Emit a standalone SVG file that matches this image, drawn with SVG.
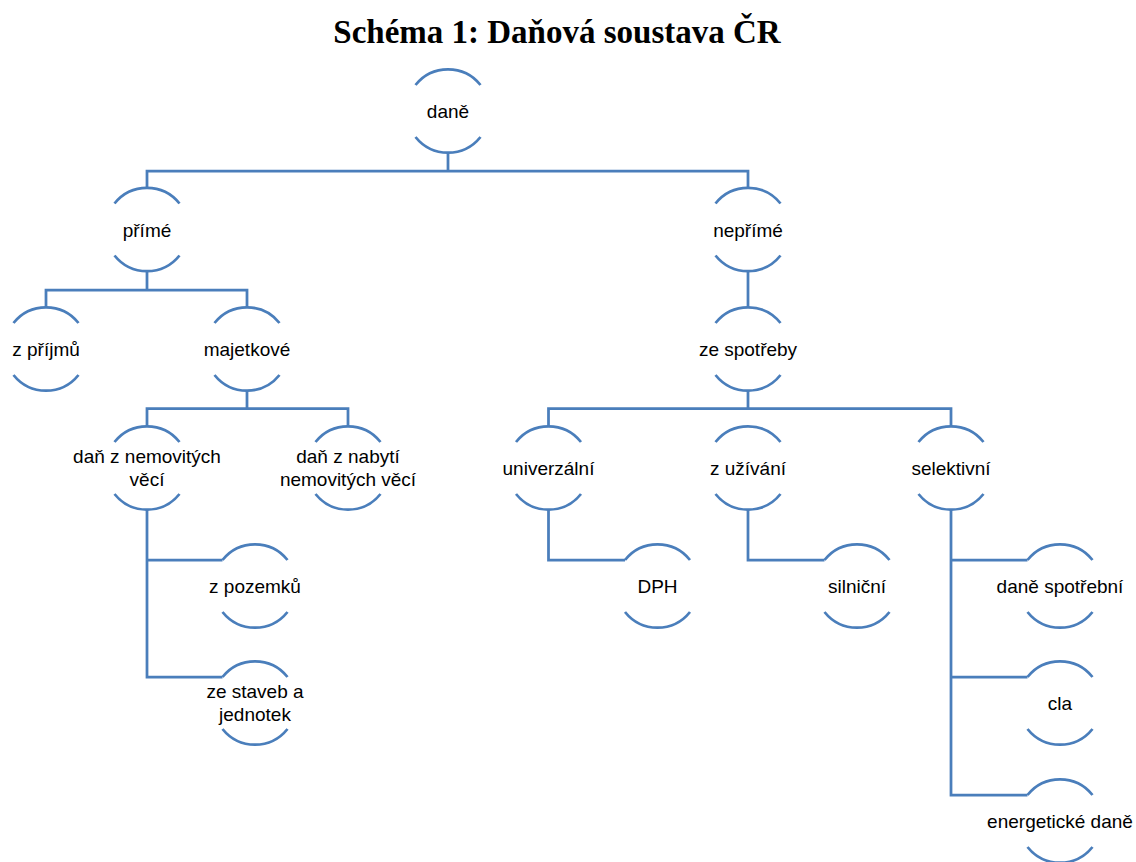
<svg xmlns="http://www.w3.org/2000/svg" xmlns:xlink="http://www.w3.org/1999/xlink" width="1136" height="862" viewBox="0 0 1136 862">
<style>
.ln{fill:none;stroke:#4a7ebb;stroke-width:2.75}
.lbl{font-family:"Liberation Sans",Arial,sans-serif;font-size:19px;text-anchor:middle;fill:#000}
.title{font-family:"Liberation Serif","Times New Roman",serif;font-size:33px;font-weight:bold;text-anchor:middle;fill:#000}
</style>
<defs>
<g id="ring">
<path class="ln" d="M-32.5,-26 A41.6,41.6 0 0 1 32.5,-26"/>
<path class="ln" d="M-32.5,26 A41.6,41.6 0 0 0 32.5,26"/>
</g>
</defs>
<rect width="1136" height="862" fill="#fff"/>
<text class="title" x="557" y="43">Schéma 1: Daňová soustava ČR</text>
<g id="connectors" class="ln">
<path d="M448,152.6 V171 M147,188 V171 H748 V188"/>
<path d="M147,271 V290 M46,307.5 V290 H247 V307.5"/>
<path d="M748,271 V307.5"/>
<path d="M247,390.5 V408.5 M147,426.5 V408.5 H348 V426.5"/>
<path d="M748,390.5 V408.5 M548.5,426.5 V408.5 H951 V426.5"/>
<path d="M147,509.5 V677 H222.5 M147,560 H222.5"/>
<path d="M548.5,509.5 V560 H625"/>
<path d="M748,509.5 V560 H824.5"/>
<path d="M951,509.5 V795 H1027.5 M951,560 H1027.5 M951,677 H1027.5"/>
</g>
<g id="n-dane"><use xlink:href="#ring" x="448" y="111"/><text class="lbl" x="448" y="118">daně</text></g>
<g id="n-prime"><use xlink:href="#ring" x="147" y="229.5"/><text class="lbl" x="147" y="236.5">přímé</text></g>
<g id="n-neprime"><use xlink:href="#ring" x="748" y="229.5"/><text class="lbl" x="748" y="236.5">nepřímé</text></g>
<g id="n-zprijmu"><use xlink:href="#ring" x="46" y="349"/><text class="lbl" x="46" y="356">z příjmů</text></g>
<g id="n-majetkove"><use xlink:href="#ring" x="247" y="349"/><text class="lbl" x="247" y="356">majetkové</text></g>
<g id="n-zespotreby"><use xlink:href="#ring" x="748" y="349"/><text class="lbl" x="748" y="356">ze spotřeby</text></g>
<g id="n-nemovite"><use xlink:href="#ring" x="147" y="468"/><text class="lbl" x="147" y="463">daň z nemovitých</text><text class="lbl" x="147" y="486">věcí</text></g>
<g id="n-nabyti"><use xlink:href="#ring" x="348" y="468"/><text class="lbl" x="348" y="463">daň z nabytí</text><text class="lbl" x="348" y="486">nemovitých věcí</text></g>
<g id="n-univerzalni"><use xlink:href="#ring" x="548.5" y="468"/><text class="lbl" x="548.5" y="475">univerzální</text></g>
<g id="n-zuzivani"><use xlink:href="#ring" x="748" y="468"/><text class="lbl" x="748" y="475">z užívání</text></g>
<g id="n-selektivni"><use xlink:href="#ring" x="951" y="468"/><text class="lbl" x="951" y="475">selektivní</text></g>
<g id="n-zpozemku"><use xlink:href="#ring" x="255" y="586"/><text class="lbl" x="255" y="593">z pozemků</text></g>
<g id="n-zestaveb"><use xlink:href="#ring" x="255" y="703"/><text class="lbl" x="255" y="698">ze staveb a</text><text class="lbl" x="255" y="721">jednotek</text></g>
<g id="n-dph"><use xlink:href="#ring" x="657.5" y="586"/><text class="lbl" x="657.5" y="593">DPH</text></g>
<g id="n-silnicni"><use xlink:href="#ring" x="857" y="586"/><text class="lbl" x="857" y="593">silniční</text></g>
<g id="n-spotrebni"><use xlink:href="#ring" x="1060" y="586"/><text class="lbl" x="1060" y="593">daně spotřební</text></g>
<g id="n-cla"><use xlink:href="#ring" x="1060" y="703"/><text class="lbl" x="1060" y="710">cla</text></g>
<g id="n-energeticke"><use xlink:href="#ring" x="1060" y="821"/><text class="lbl" x="1060" y="828">energetické daně</text></g>
</svg>
